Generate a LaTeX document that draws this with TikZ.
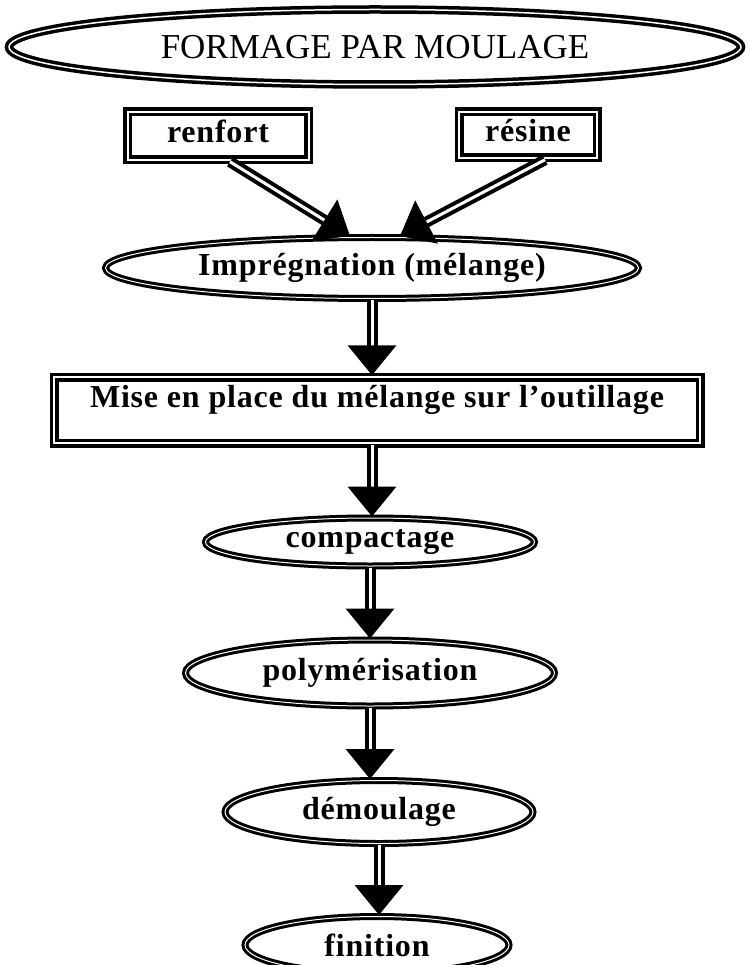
\documentclass[tikz,border=0pt]{standalone}
\usepackage{fontspec}
\setmainfont{Liberation Serif}
\usetikzlibrary{shapes.geometric,arrows.meta}

\newfontfamily\grasfont[LetterSpace=2.5]{Liberation Serif}

\tikzset{
  etape/.style={ellipse, draw, line width=3pt, double, double distance=1pt,
    inner sep=0pt, font=\grasfont\fontsize{32}{37}\selectfont\bfseries},
  boite/.style={rectangle, draw, line width=3.5pt, double, double distance=2pt,
    inner sep=0pt, text height=22pt, text depth=8pt,
    font=\grasfont\fontsize{32}{37}\selectfont\bfseries},
  fleche/.style={draw, line width=4pt, double, double distance=3pt,
    -{Triangle[length=30pt,width=48pt]}}
}

\begin{document}
\begin{tikzpicture}[x=1pt, y=-1pt]
    \useasboundingbox (0,0) rectangle (749,965);
    \clip (0,0) rectangle (749,965);

    % titre
    \node[etape, line width=3.5pt, double distance=1.5pt, minimum width=732, minimum height=75,
      font=\fontsize{35}{40}\selectfont] (titre) at (375,47) {FORMAGE PAR MOULAGE};

    % constituants
    \node[boite, minimum width=181, minimum height=48] (renfort) at (218,136) {renfort};
    \node[boite, minimum width=138, minimum height=46] (resine) at (528,135) {résine};

    % etapes du procede
    \node[etape, minimum width=533, minimum height=61] (impreg) at (372,268) {Imprégnation (mélange)};
    \node[boite, minimum width=646, minimum height=66, text depth=27pt] (mise) at (377,410) {Mise en place du mélange sur l’outillage};
    \node[etape, minimum width=329, minimum height=48] (compact) at (370,542) {compactage};
    \node[etape, minimum width=369, minimum height=66] (polym) at (370,673) {polymérisation};
    \node[etape, minimum width=308, minimum height=63] (demoul) at (379,812) {démoulage};
    \node[etape, minimum width=264, minimum height=57] (finit) at (377,945) {finition};

    % renfort et resine vers impregnation
    \draw[fleche] ([xshift=12]renfort.south) -- ([xshift=-22]impreg.north);
    \draw[fleche] ([xshift=17]resine.south) -- ([xshift=28]impreg.north);

    % enchainement vertical
    \draw[fleche] (impreg.south) -- (impreg.south |- mise.north);
    \draw[fleche] ([xshift=-5]mise.south) -- ([xshift=-5]mise.south |- compact.north);
    \draw[fleche] (compact.south) -- (compact.south |- polym.north);
    \draw[fleche] (polym.south) -- (polym.south |- demoul.north);
    \draw[fleche] (demoul.south) -- (demoul.south |- finit.north);
\end{tikzpicture}
\end{document}
